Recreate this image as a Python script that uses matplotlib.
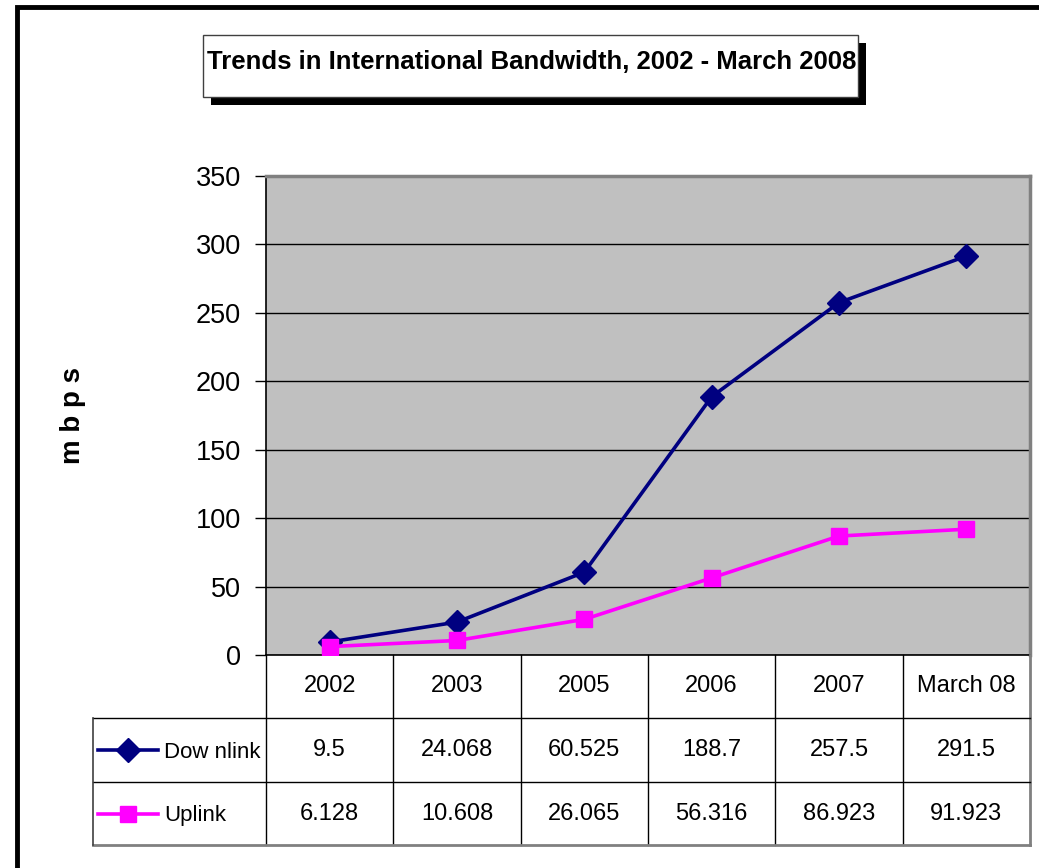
import matplotlib
matplotlib.use("Agg")
import matplotlib.pyplot as plt
from matplotlib.lines import Line2D
from matplotlib.patches import Rectangle
from matplotlib import font_manager

categories = ["2002", "2003", "2005", "2006", "2007", "March 08"]
downlink = [9.5, 24.068, 60.525, 188.7, 257.5, 291.5]
uplink = [6.128, 10.608, 26.065, 56.316, 86.923, 91.923]
downlink_labels = ["9.5", "24.068", "60.525", "188.7", "257.5", "291.5"]
uplink_labels = ["6.128", "10.608", "26.065", "56.316", "86.923", "91.923"]
series_names = ["Dow nlink", "Uplink"]
yticks = [0, 50, 100, 150, 200, 250, 300, 350]
title = "Trends in International Bandwidth, 2002 - March 2008"
ylabel = "m b p s"

names = {f.name for f in font_manager.fontManager.ttflist}
fam = [f for f in ["Liberation Sans Narrow", "Liberation Sans", "DejaVu Sans"] if f in names]
plt.rcParams['font.family'] = fam

W, H = 1039, 868
fig = plt.figure(figsize=(W / 100, H / 100), dpi=100)

def fx(x): return x / W
def fy(y): return 1 - y / H

# outer border
fig.add_artist(Rectangle((fx(17), fy(1000)), fx(1100), fy(7) - fy(1000), transform=fig.transFigure,
                         fill=False, edgecolor='black', lw=3.5))

# title box with shadow
fig.add_artist(Rectangle((fx(211), fy(105)), fx(866) - fx(211), fy(43) - fy(105),
                         transform=fig.transFigure, facecolor='black', edgecolor='none'))
fig.add_artist(Rectangle((fx(203), fy(97)), fx(858) - fx(203), fy(35) - fy(97),
                         transform=fig.transFigure, facecolor='white', edgecolor='#404040', lw=1))
fig.text(fx(532), fy(62), title, ha='center', va='center', fontsize=18.5, fontweight='bold')

# plot area
L, R, T, B = 266, 1030, 176, 655
ax = fig.add_axes([fx(L), fy(B), fx(R) - fx(L), fy(T) - fy(B)])
ax.set_facecolor('#C0C0C0')
x = list(range(len(categories)))
ax.plot(x, downlink, color='#000080', lw=2.6, marker='D', markersize=12, zorder=3)
ax.plot(x, uplink, color='#FF00FF', lw=2.6, marker='s', markersize=11, zorder=3)
ax.set_xlim(-0.5, len(categories) - 0.5)
ax.set_ylim(0, 350)
ax.set_yticks(yticks)
ax.set_yticklabels([str(v) for v in yticks], fontsize=19.5)
ax.yaxis.grid(True, color='black', lw=1)
ax.set_axisbelow(True)
ax.set_xticks([])
ax.tick_params(axis='y', length=8, width=1, color='black', pad=10)
for s in ['top', 'right']:
    ax.spines[s].set_color('#808080')
    ax.spines[s].set_linewidth(2.5)
ax.spines['left'].set_color('black')
ax.spines['left'].set_linewidth(1.2)
ax.spines['bottom'].set_color('black')
ax.spines['bottom'].set_linewidth(1.2)

fig.text(fx(73), fy(416), ylabel, rotation=90, ha='center', va='center', fontsize=20, fontweight='bold')

# data table
ncol = len(categories)
colw = (R - L) / ncol
xs = [L + i * colw for i in range(ncol + 1)]
r0, r1, r2, r3 = 655, 718, 782, 845
LL = 93

def line(x0, y0, x1, y1, color='black', lw=1):
    fig.add_artist(Line2D([fx(x0), fx(x1)], [fy(y0), fy(y1)], transform=fig.transFigure, color=color, lw=lw))

for xv in xs[1:-1]:
    line(xv, r0, xv, r3)
line(L, r0, L, r3)
line(R, r0, R, r3, color='#808080', lw=2)
line(LL, r1, R, r1)
line(LL, r2, R, r2)
line(LL, r3, R, r3, color='#808080', lw=2)
line(LL, r1, LL, r3, color='#404040', lw=1.2)

for i, c in enumerate(categories):
    cx = L + (i + 0.5) * colw
    fig.text(fx(cx), fy((r0 + r1) / 2), c, ha='center', va='center', fontsize=17)
    fig.text(fx(cx), fy((r1 + r2) / 2), downlink_labels[i], ha='center', va='center', fontsize=17)
    fig.text(fx(cx), fy((r2 + r3) / 2), uplink_labels[i], ha='center', va='center', fontsize=17)

for (yc, col, mk, ms, name) in [((r1 + r2) / 2, '#000080', 'D', 12, series_names[0]),
                                  ((r2 + r3) / 2, '#FF00FF', 's', 11, series_names[1])]:
    fig.add_artist(Line2D([fx(98), fx(158)], [fy(yc), fy(yc)], transform=fig.transFigure,
                          color=col, lw=2.6))
    fig.add_artist(Line2D([fx(128)], [fy(yc)], transform=fig.transFigure, color=col,
                          marker=mk, markersize=ms, lw=0))
    fig.text(fx(164), fy(yc + 2), name, ha='left', va='center', fontsize=16)

fig.savefig("out.png", dpi=100)
